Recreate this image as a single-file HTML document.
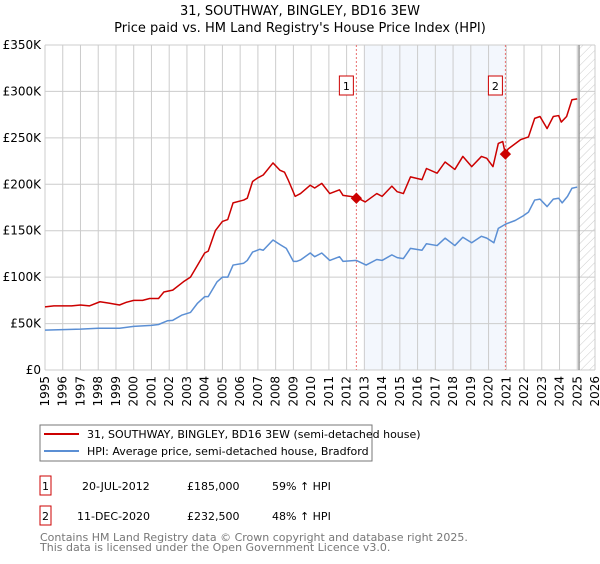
<!DOCTYPE html>
<html><head><meta charset="utf-8"><style>
body{margin:0;background:#fff;width:600px;height:560px;overflow:hidden;font-family:"DejaVu Sans","Liberation Sans",sans-serif}
svg text{font-family:"DejaVu Sans","Liberation Sans",sans-serif}
</style></head><body>
<svg id="chart" width="600" height="560" xmlns="http://www.w3.org/2000/svg">
<defs><pattern id="hatch" width="6" height="6" patternUnits="userSpaceOnUse" patternTransform="rotate(45)"><line x1="0" y1="0" x2="0" y2="6" stroke="#ccc" stroke-width="1"/></pattern></defs>
<text x="300" y="15" text-anchor="middle" font-size="13">31, SOUTHWAY, BINGLEY, BD16 3EW</text>
<text x="300" y="32" text-anchor="middle" font-size="13">Price paid vs. HM Land Registry's House Price Index (HPI)</text>
<g id="plot"></g>
<rect x="40" y="425" width="332" height="36" fill="#fff" stroke="#777"/>
<line x1="44" y1="434" x2="79" y2="434" stroke="#cc0000" stroke-width="2"/>
<text x="87" y="438" font-size="11">31, SOUTHWAY, BINGLEY, BD16 3EW (semi-detached house)</text>
<line x1="44" y1="451" x2="79" y2="451" stroke="#5b8fd4" stroke-width="2"/>
<text x="87" y="455" font-size="11">HPI: Average price, semi-detached house, Bradford</text>
<rect x="40" y="476" width="11" height="19" fill="#fff" stroke="#cc0000"/>
<text x="45.5" y="490" text-anchor="middle" font-size="11">1</text>
<text x="82" y="490" font-size="11">20-JUL-2012</text>
<text x="187" y="490" font-size="11">£185,000</text>
<text x="272" y="490" font-size="11">59% ↑ HPI</text>
<rect x="40" y="506" width="11" height="19" fill="#fff" stroke="#cc0000"/>
<text x="45.5" y="520" text-anchor="middle" font-size="11">2</text>
<text x="77" y="520" font-size="11">11-DEC-2020</text>
<text x="187" y="520" font-size="11">£232,500</text>
<text x="272" y="520" font-size="11">48% ↑ HPI</text>
<text x="40" y="541" font-size="11" fill="#777">Contains HM Land Registry data © Crown copyright and database right 2025.</text>
<text x="40" y="551" font-size="11" fill="#777">This data is licensed under the Open Government Licence v3.0.</text>
</svg>
<script>
const yTicks=[0,50,100,150,200,250,300,350];
const yTickLabels=["£0","£50K","£100K","£150K","£200K","£250K","£300K","£350K"];
const years=[1995,1996,1997,1998,1999,2000,2001,2002,2003,2004,2005,2006,2007,2008,2009,2010,2011,2012,2013,2014,2015,2016,2017,2018,2019,2020,2021,2022,2023,2024,2025,2026];
const redT=[1995,1995.5,1996,1996.5,1997,1997.5,1998.1,1998.6,1999.2,1999.6,2000,2000.5,2000.9,2001.4,2001.7,2002.2,2002.8,2003.2,2003.6,2004,2004.2,2004.6,2005,2005.3,2005.6,2006.2,2006.4,2006.7,2007,2007.3,2007.85,2008.25,2008.5,2008.7,2009.1,2009.4,2009.95,2010.2,2010.6,2011.05,2011.6,2011.8,2012.55,2013.05,2013.7,2014,2014.55,2014.85,2015.2,2015.6,2016.25,2016.5,2017.1,2017.55,2018.1,2018.55,2019.05,2019.6,2019.9,2020.25,2020.55,2020.8,2020.95,2021.1,2021.8,2022.25,2022.6,2022.9,2023.3,2023.65,2023.95,2024.1,2024.4,2024.7,2025.0];
const redV=[68,69,69,69,70,69,73.5,72,70,73,75,75,77,77,84,86,95,100,113,126,128,150,160,162,180,183,185,203,207,210,223,215,213,205,187,190,199,196,201,190,194,188,186,181,190,187,198,192,190,208,205,217,212,224,216,230,219,230,228,219,244,246,232.5,238,248,251,271,273,260,273,274,267,273,291,292];
const blueT=[1995,1996,1997,1998,1999.2,2000,2001,2001.4,2001.9,2002.2,2002.7,2003.2,2003.6,2004,2004.2,2004.7,2005,2005.3,2005.6,2006.2,2006.4,2006.7,2007.1,2007.3,2007.85,2008.25,2008.6,2009,2009.2,2009.4,2009.95,2010.2,2010.6,2011.05,2011.6,2011.8,2012.55,2013.1,2013.7,2014,2014.55,2014.85,2015.2,2015.6,2016.25,2016.5,2017.1,2017.55,2018.1,2018.55,2019.05,2019.6,2019.9,2020.3,2020.55,2020.95,2021.5,2021.95,2022.25,2022.6,2022.9,2023.3,2023.65,2023.95,2024.15,2024.45,2024.7,2025.0];
const blueV=[43,43.5,44,45,45,47,48,49,53,53.5,59,62,72,79,79,95,100,100,113,115,118,127,130,129,140,135,131,117,117,118.5,126,122,126,118,122,117,118,113,119,118,124,121,120,131,129,136,134,142,134,143,137,144,142,137,152.5,157,161,166,170,183,184,176,184,185,180,187,195.7,197];
const saleT=[2012.55,2020.95];
const saleV=[185,232.5];
const saleLabels=["1","2"];
const x0=45,x1=595,y0=370,y1=45;
const X=t=>x0+(t-1995)/31*(x1-x0);
const Y=v=>y0-v/350*(y0-y1);
const NS="http://www.w3.org/2000/svg";
const g=document.getElementById('plot');
function mk(tag,attrs){const e=document.createElementNS(NS,tag);for(const k in attrs)e.setAttribute(k,attrs[k]);g.appendChild(e);return e;}
let e;
e=mk('rect',{x:X(2013),y:y1,width:X(saleT[1])-X(2013),height:y0-y1,fill:'#eef3fc',opacity:0.7});


e=mk('rect',{x:X(2025.1),y:y1,width:x1-X(2025.1),height:y0-y1,fill:'url(#hatch)'});


years.forEach((yr,i)=>{
 let l=mk('line',{x1:X(yr),x2:X(yr),y1:y1,y2:y0,stroke:'#ccc','stroke-width':1});
 
 
 let t=mk('text',{x:0,y:0,'font-size':12,'text-anchor':'end',transform:`translate(${X(yr)+4},${y0+6}) rotate(-90)`});
 t.textContent=yr;
 
 
});
yTicks.forEach((v,i)=>{
 let l=mk('line',{x1:x0,x2:x1,y1:Y(v),y2:Y(v),stroke:'#ccc','stroke-width':1});
 
 
 let t=mk('text',{x:x0-4,y:Y(v)+4,'font-size':12,'text-anchor':'end'});
 t.textContent=yTickLabels[i];
 
 
});
e=mk('line',{x1:X(2025.1),x2:X(2025.1),y1:y1,y2:y0,stroke:'#999','stroke-width':1.5});


saleT.forEach((t,i)=>{
 let l=mk('line',{x1:X(t),x2:X(t),y1:y1,y2:y0,stroke:'#e87070','stroke-width':1,'stroke-dasharray':'2,2'});
 
 
 let r=mk('rect',{x:X(t)-17,y:76,width:14,height:19,fill:'#fff',stroke:'#cc0000'});
 
 
 let tx=mk('text',{x:X(t)-10,y:90,'font-size':11,'text-anchor':'middle'});
 tx.textContent=saleLabels[i];
 
 
});
function line(T,V,c,name){let p=mk('polyline',{points:T.map((t,i)=>X(t)+','+Y(V[i])).join(' '),fill:'none',stroke:c,'stroke-width':1.5,'stroke-linejoin':'round'});
 
 }
line(blueT,blueV,'#5b8fd4','hpi-line');
line(redT,redV,'#cc0000','price-line');
saleT.forEach((t,i)=>{
 let d=mk('rect',{x:X(t)-4,y:Y(saleV[i])-4,width:8,height:8,fill:'#cc0000',transform:`rotate(45 ${X(t)} ${Y(saleV[i])})`});
 
 
});
</script>
</body></html>
